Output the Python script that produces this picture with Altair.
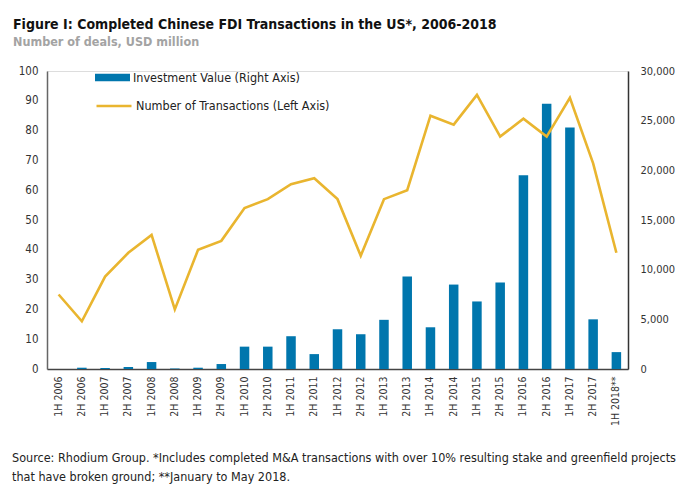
import altair as alt
import pandas as pd

periods = ["1H 2006", "2H 2006", "1H 2007", "2H 2007", "1H 2008", "2H 2008",
           "1H 2009", "2H 2009", "1H 2010", "2H 2010", "1H 2011", "2H 2011",
           "1H 2012", "2H 2012", "1H 2013", "2H 2013", "1H 2014", "2H 2014",
           "1H 2015", "2H 2015", "1H 2016", "2H 2016", "1H 2017", "2H 2017",
           "1H 2018**"]
deals = [25, 16, 31, 39, 45, 20, 40, 43, 54, 57, 62, 64, 57, 38, 57, 60,
         85, 82, 92, 78, 84, 78, 91, 69, 39]
values = [0, 130, 100, 200, 700, 50, 130, 500, 2250, 2250, 3300, 1500, 4000,
          3500, 4950, 9300, 4200, 8500, 6800, 8700, 19500, 26700, 24300, 5000,
          1700]
bar_label = "Investment Value (Right Axis)"
line_label = "Number of Transactions (Left Axis)"
title_text = "Figure I: Completed Chinese FDI Transactions in the US*, 2006-2018"
subtitle_text = "Number of deals, USD million"
footnote = ["Source: Rhodium Group. *Includes completed M&A transactions with over 10% resulting stake and greenfield projects",
            "that have broken ground; **January to May 2018."]

df = pd.DataFrame({"period": periods, "deals": deals, "value": values,
                   "bar": bar_label, "line": line_label})

FONT = "Liberation Sans Narrow, DejaVu Sans Condensed, Roboto Condensed, Arial Narrow, sans-serif"
BLUE = "#0076ad"
GOLD = "#e9b52f"

x = alt.X("period:N", sort=periods, title=None,
          scale=alt.Scale(paddingInner=0, paddingOuter=0),
          axis=alt.Axis(labelAngle=270, ticks=False, domainColor="#444",
                        domainWidth=1.5, labelFontSize=10.5, labelColor="#333",
                        labelFont=FONT, labelPadding=7))

bars = alt.Chart(df).mark_bar(size=9.5).encode(
    x=x,
    y=alt.Y("value:Q", title=None, scale=alt.Scale(domain=[0, 30000]),
            axis=alt.Axis(orient="right", values=list(range(0, 30001, 5000)),
                          format=",.0f", formatType="number", ticks=False,
                          grid=False, domainColor="#333", domainWidth=1.5,
                          labelFontSize=11, labelColor="#333", labelFont=FONT,
                          labelPadding=12)),
    color=alt.Color("bar:N", title=None,
                    scale=alt.Scale(domain=[bar_label], range=[BLUE]),
                    legend=alt.Legend(orient="none", legendX=48, legendY=-11,
                                      symbolType="M-1,-0.22H1V0.22H-1Z",
                                      symbolSize=1225, symbolStrokeWidth=0,
                                      labelFontSize=12.5, labelFont=FONT,
                                      labelColor="#222", labelOffset=3,
                                      labelLimit=400, padding=0,
                                      symbolOpacity=1)),
)

line = alt.Chart(df).mark_line(strokeWidth=2.6).encode(
    x=x,
    y=alt.Y("deals:Q", title=None, scale=alt.Scale(domain=[0, 100]),
            axis=alt.Axis(orient="left", values=list(range(0, 101, 10)),
                          ticks=False, grid=False, domainColor="#666",
                          domainWidth=1.5, labelFontSize=11.5,
                          labelColor="#333", labelFont=FONT, labelPadding=9)),
    stroke=alt.Stroke("line:N", title=None,
                      scale=alt.Scale(domain=[line_label], range=[GOLD]),
                      legend=alt.Legend(orient="none", legendX=48, legendY=16,
                                        symbolType="stroke", symbolSize=1225,
                                        symbolStrokeWidth=2.6,
                                        labelFontSize=12.5, labelFont=FONT,
                                        labelColor="#222", labelOffset=3,
                                        labelLimit=400, padding=0)),
)

notes = alt.Chart(alt.Data(values=[{}])).mark_text(
    align="left", baseline="alphabetic", fontSize=12.5, font=FONT,
    color="#222", lineHeight=19
).encode(x=alt.value(-35), y=alt.value(391), text=alt.value(footnote))

chart = alt.layer(bars, line, notes).resolve_scale(
    y="independent", color="independent", stroke="independent"
).properties(
    width=581, height=298,
    autosize=alt.AutoSizeParams(type="none"),
    padding={"left": 47, "top": 71, "right": 63, "bottom": 126},
    title=alt.TitleParams(text=title_text, subtitle=subtitle_text,
                          anchor="start", frame="group", dx=-34, dy=-2,
                          font=FONT, fontSize=14, fontWeight="bold",
                          color="#111", subtitleFont=FONT,
                          subtitleFontSize=12.5, subtitleFontWeight="bold",
                          subtitleColor="#a3a3a3", subtitlePadding=4,
                          offset=10),
).configure_view(stroke=None).configure(background="white")

chart.save("out.html", embed_options={"renderer": "svg", "actions": False})
